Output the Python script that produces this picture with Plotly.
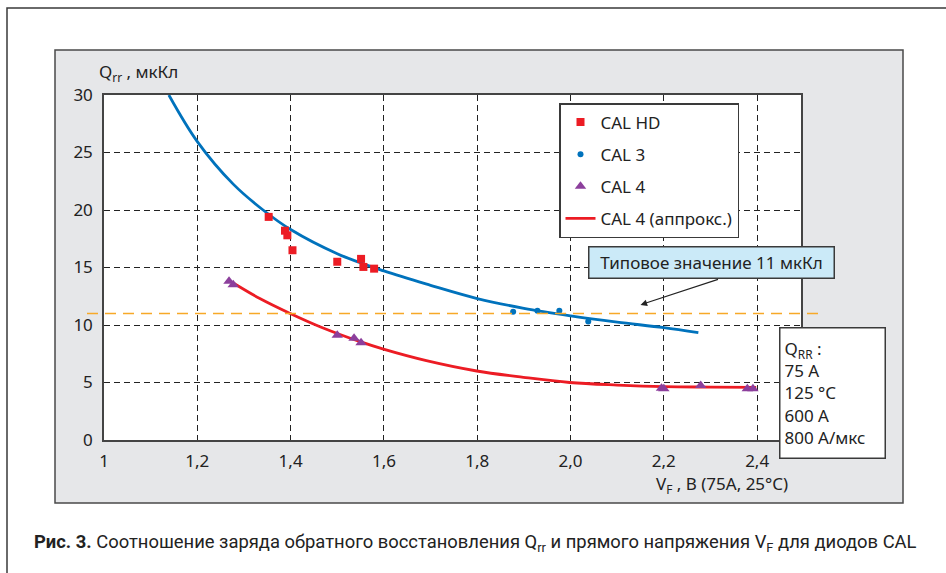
import plotly.graph_objects as go

# ---------------- data ----------------
cal_hd_x = [1.353, 1.388, 1.393, 1.404, 1.500, 1.551, 1.556, 1.579]
cal_hd_y = [19.4, 18.2, 17.8, 16.5, 15.5, 15.75, 15.05, 14.9]

cal3_x = [1.877, 1.929, 1.976, 2.038]
cal3_y = [11.15, 11.25, 11.25, 10.3]

cal4_x = [1.268, 1.277, 1.500, 1.536, 1.551, 2.195, 2.200, 2.279, 2.379, 2.391]
cal4_y = [13.8, 13.5, 9.1, 8.85, 8.45, 4.5, 4.45, 4.75, 4.45, 4.45]

# blue trend (CAL 3 / CAL HD)
blue_x = [1.139, 1.200, 1.277, 1.341, 1.400, 1.500, 1.600, 1.700, 1.800, 1.900, 2.000, 2.100, 2.200, 2.274]
blue_y = [30.0, 25.95, 22.25, 20.0, 18.3, 16.2, 14.7, 13.45, 12.3, 11.45, 10.8, 10.25, 9.77, 9.33]

# red approximation (CAL 4)
red_x = [1.277, 1.334, 1.399, 1.463, 1.549, 1.599, 1.691, 1.799, 1.899, 1.998, 2.100, 2.199, 2.300, 2.398]
red_y = [13.65, 12.3, 11.0, 9.85, 8.55, 7.9, 6.9, 6.0, 5.45, 5.0, 4.78, 4.64, 4.6, 4.58]

typical_q = 11.0
arrow_tip = (2.15, 11.75)

x_ticks = [1.0, 1.2, 1.4, 1.6, 1.8, 2.0, 2.2, 2.4]
x_tick_text = ["1", "1,2", "1,4", "1,6", "1,8", "2,0", "2,2", "2,4"]
y_ticks = [0, 5, 10, 15, 20, 25, 30]
y_tick_text = ["0", "5", "10", "15", "20", "25", "30"]

# ---------------- styling ----------------
FONT = "Noto Sans"
RED = "#EC1C24"
BLUE = "#0072BC"
PURPLE = "#8C3F9C"
ORANGE = "#F7A928"
DARK = "#3a3a3a"

fig = go.Figure()

fig.add_trace(go.Scatter(x=blue_x, y=blue_y, mode="lines", line=dict(color=BLUE, width=2.8, shape="spline"),
                         showlegend=False, hoverinfo="skip"))
fig.add_trace(go.Scatter(x=cal_hd_x, y=cal_hd_y, mode="markers", name="CAL HD", legendgroup="a",
                         marker=dict(symbol="square", size=8, color=RED)))
fig.add_trace(go.Scatter(x=cal3_x, y=cal3_y, mode="markers", name="CAL 3", legendgroup="b",
                         marker=dict(symbol="circle", size=6, color=BLUE)))
fig.add_trace(go.Scatter(x=red_x, y=red_y, mode="lines", line=dict(color=RED, width=2.8, shape="spline"),
                         showlegend=False, hoverinfo="skip"))
fig.add_trace(go.Scatter(x=cal4_x, y=cal4_y, mode="markers", name="CAL 4", legendgroup="c",
                         marker=dict(symbol="triangle-up", size=10, color=PURPLE)))
fig.add_trace(go.Scatter(x=[None], y=[None], mode="lines", name="CAL 4 (аппрокс.)", legendgroup="d",
                         line=dict(color=RED, width=2.8)))

L, R, T, B = 104, 145, 95, 133
W, H = 946, 573
PW, PH = W - L - R, H - T - B


def px(xp):
    return (xp - L) / PW


def py(yp):
    return (H - B - yp) / PH


shapes = [
    # outer frame
    dict(type="rect", xref="paper", yref="paper", x0=px(7), x1=px(952), y0=py(580), y1=py(8),
         line=dict(color=DARK, width=1.5), fillcolor="white", layer="below"),
    # grey panel
    dict(type="rect", xref="paper", yref="paper", x0=px(55), x1=px(903), y0=py(503), y1=py(50),
         line=dict(color="#4a4a4a", width=1.5), fillcolor="#E6E7E9", layer="below"),
    # white plotting area
    dict(type="rect", xref="paper", yref="paper", x0=0, x1=1, y0=0, y1=1,
         line=dict(width=0), fillcolor="white", layer="below"),
    # typical value line
    dict(type="line", xref="paper", yref="y", x0=px(87), x1=px(820), y0=typical_q, y1=typical_q,
         line=dict(color=ORANGE, width=1.6, dash="11px,7px"), layer="above"),
]

annotations = [
    dict(xref="paper", yref="paper", x=px(97), y=py(72), xanchor="left", yanchor="middle",
         text="Q<sub>rr</sub> , мкКл", showarrow=False, font=dict(family=FONT, size=17, color="#222")),
    dict(xref="paper", yref="paper", x=px(790), y=py(485), xanchor="right", yanchor="middle",
         text="V<sub>F</sub> , В (75A, 25°C)", showarrow=False, font=dict(family=FONT, size=17, color="#222")),
    dict(xref="paper", yref="paper", x=px(779), y=py(327), xanchor="left", yanchor="top",
         text="Q<sub>RR</sub> :<br>75 A<br>125 °C<br>600 A<br>800 A/мкс", align="left", valign="middle",
         showarrow=False, bgcolor="white", bordercolor=DARK, borderwidth=1.5, borderpad=4,
         width=96, height=121, font=dict(family=FONT, size=17, color="#222")),
    dict(xref="paper", yref="paper", x=px(711), y=py(262.5), xanchor="center", yanchor="middle",
         text="Типовое значение 11 мкКл", showarrow=False, bgcolor="#CBEAF8", bordercolor=DARK,
         borderwidth=1.5, borderpad=3, width=238, height=24, font=dict(family=FONT, size=17, color="#222")),
    dict(xref="x", yref="y", x=arrow_tip[0], y=arrow_tip[1], ax=79, ay=-26, text="", showarrow=True,
         arrowhead=2, arrowsize=1.2, arrowwidth=1.1, arrowcolor="#222"),
    dict(xref="paper", yref="paper", x=px(32), y=py(543), xanchor="left", yanchor="middle",
         text="<b>Рис. 3.</b> Соотношение заряда обратного восстановления Q<sub>rr</sub> и прямого напряжения V<sub>F</sub> для диодов CAL",
         showarrow=False, font=dict(family="Roboto", size=18.4, color="#222")),
]

fig.update_layout(
    width=W, height=H,
    margin=dict(l=L, r=R, t=T, b=B),
    paper_bgcolor="white", plot_bgcolor="white",
    font=dict(family=FONT, size=17, color="#222"),
    shapes=shapes, annotations=annotations,
    legend=dict(x=px(559), y=py(103), xanchor="left", yanchor="top", bgcolor="white",
                bordercolor=DARK, borderwidth=1.5, font=dict(family=FONT, size=17, color="#222"),
                tracegroupgap=7, itemsizing="trace"),
    xaxis=dict(range=[1, 2.494], tickvals=x_ticks, ticktext=x_tick_text, showgrid=True,
               gridcolor="#222", gridwidth=1, griddash="6px,4px", zeroline=False,
               showline=True, linecolor="#444", linewidth=1.5, mirror=True, ticks="",
               ticklabelstandoff=5, tickfont=dict(family=FONT, size=17, color="#222")),
    yaxis=dict(range=[0, 30], tickvals=y_ticks, ticktext=y_tick_text, showgrid=True,
               gridcolor="#222", gridwidth=1, griddash="6px,4px", zeroline=False,
               showline=True, linecolor="#444", linewidth=1.5, mirror=True, ticks="",
               ticklabelstandoff=6, tickfont=dict(family=FONT, size=17, color="#222")),
)

fig.write_html("out.html")
